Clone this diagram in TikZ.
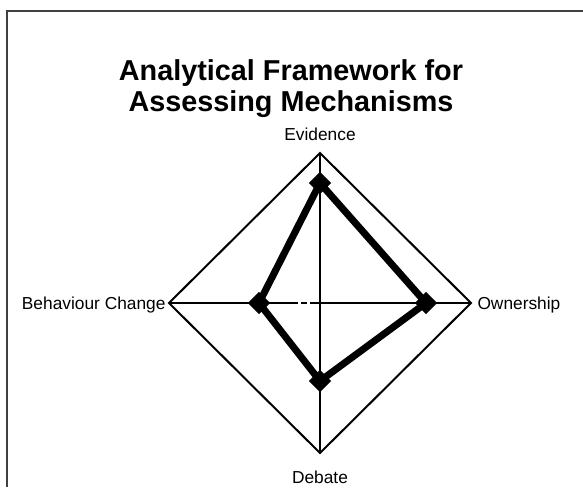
\documentclass[tikz,border=0pt]{standalone}
\usepackage{fontspec}
\setmainfont{Liberation Sans}
\usetikzlibrary{shapes.geometric}

\tikzset{every picture/.style={line width=0.75pt}}
\tikzset{
  frameline/.style={color={rgb, 255:red, 64; green, 64; blue, 64 }, line width=1.5pt},
  gridline/.style={line width=1.5pt},
  scoreline/.style={line width=5.25pt, line join=miter},
  scoremark/.style={diamond, fill=black, inner sep=0pt, minimum size=17pt},
  axislabel/.style={inner sep=0pt, font=\fontsize{13}{15}\selectfont},
  titletext/.style={inner sep=0pt, font=\fontsize{21.6}{26}\selectfont\bfseries}
}

\begin{document}
\begin{tikzpicture}[x=0.75pt,y=0.75pt,yscale=-1,xscale=1]
\useasboundingbox (0,0) rectangle (583,487);

%Frame
\draw [frameline] (7,487) -- (7,11) -- (583,11) ;

%Axis ends
\coordinate (top) at (320,153);
\coordinate (rgt) at (471,303);
\coordinate (bot) at (320,453);
\coordinate (lft) at (169,303);

%Shape: Diamond
\draw [gridline] (top) -- (rgt) -- (bot) -- (lft) -- cycle ;
%Straight Lines
\draw [gridline] (top) -- (bot) ;
%Straight Lines
\draw [gridline] (lft) -- (298,303) (301,303) -- (307,303) (310,303) -- (rgt) ;

%Scores
\node [scoremark] (evid) at (320,183) {};
\node [scoremark] (owner) at (426,303) {};
\node [scoremark] (debate) at (320,381) {};
\node [scoremark] (behav) at (259,303) {};
\draw [scoreline] (evid.center) -- (owner.center) -- (debate.center) -- (behav.center) -- cycle ;

% Text Node
\node [titletext, anchor=base] (title1) at (291,80) {Analytical Framework for};
% Text Node
\node [titletext, anchor=base] (title2) at (291,111) {Assessing Mechanisms};
% Text Node
\node [axislabel, anchor=base] (lbltop) at (320,140) {Evidence};
% Text Node
\node [axislabel, anchor=base west] (lblrgt) at (477,309) {Ownership};
% Text Node
\node [axislabel, anchor=base] (lblbot) at (320,483) {Debate};
% Text Node
\node [axislabel, anchor=base east] (lbllft) at (166,309) {Behaviour Change};
\end{tikzpicture}
\end{document}
